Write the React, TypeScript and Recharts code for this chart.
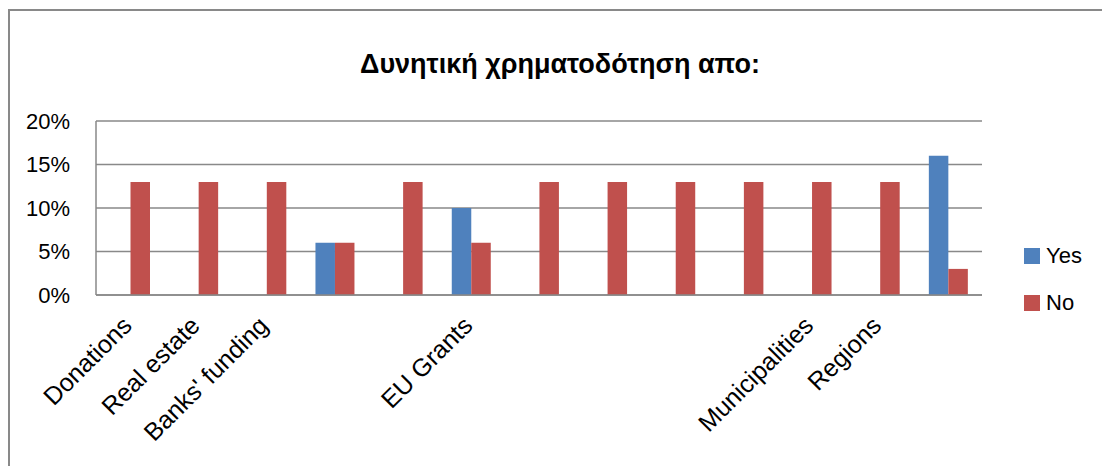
import { BarChart, Bar, XAxis, YAxis, CartesianGrid } from "recharts";

const categories = [
  "Donations",
  "Real estate",
  "Banks' funding",
  "",
  "",
  "EU Grants",
  "",
  "",
  "",
  "",
  "Municipalities",
  "Regions",
  "",
];
const yesValues = [0, 0, 0, 6, 0, 10, 0, 0, 0, 0, 0, 0, 16];
const noValues = [13, 13, 13, 6, 13, 6, 13, 13, 13, 13, 13, 13, 3];
const yTicks = [0, 5, 10, 15, 20];
const title = "Δυνητική χρηματοδότηση απο:";
const legendItems = ["Yes", "No"];

const YES = "#4F81BD";
const NO = "#C0504D";
const GRID = "#898989";
const FONT = "'Liberation Sans', Arial, sans-serif";

const data = categories.map((name, i) => ({ name, yes: yesValues[i], no: noValues[i] }));

const CatTick = (props: any) => {
  const { x, y, payload } = props;
  if (!payload.value) return null;
  return (
    <g transform={`translate(${x - 3},${y + 18})`}>
      <text textAnchor="end" transform="rotate(-45)" dy="0.35em" fontSize={25} fill="#000" fontFamily={FONT}>
        {payload.value}
      </text>
    </g>
  );
};

export default function App() {
  return (
    <div style={{ position: "relative", width: 1102, height: 458, overflow: "hidden", background: "#fff" }}>
      <div
        style={{
          position: "absolute",
          left: 0,
          top: 1,
          width: 1300,
          height: 1300,
          border: `2px solid ${GRID}`,
          boxSizing: "border-box",
        }}
      />
      <div
        style={{
          position: "absolute",
          left: 0,
          width: 1104,
          top: 42,
          lineHeight: "28px",
          textAlign: "center",
          fontFamily: FONT,
          fontWeight: "bold",
          fontSize: 27,
          color: "#000",
        }}
      >
        {title}
      </div>
      <div style={{ position: "absolute", left: 0, top: 0 }}>
        <BarChart
          width={1102}
          height={458}
          data={data}
          margin={{ top: 113, right: 128, bottom: 11, left: 0 }}
          barGap={0}
          barSize={19.5}
        >
          <CartesianGrid vertical={false} stroke={GRID} strokeWidth={1.5} />
          <XAxis
            dataKey="name"
            interval={0}
            tick={<CatTick />}
            tickLine={false}
            axisLine={{ stroke: GRID, strokeWidth: 1.5 }}
            height={160}
          />
          <YAxis
            domain={[0, 20]}
            ticks={yTicks}
            tickFormatter={(v: number) => `${v}%`}
            tick={{ fontSize: 22, fill: "#000", fontFamily: FONT }}
            tickLine={false}
            tickMargin={20}
            axisLine={{ stroke: GRID, strokeWidth: 1.5 }}
            width={88}
          />
          <Bar dataKey="yes" name="Yes" fill={YES} isAnimationActive={false} />
          <Bar dataKey="no" name="No" fill={NO} isAnimationActive={false} />
        </BarChart>
      </div>
      <div
        style={{ position: "absolute", left: 1016, top: 224, fontFamily: FONT, fontSize: 22, color: "#000" }}
      >
        {legendItems.map((label, i) => (
          <div key={label} style={{ display: "flex", alignItems: "center", height: 47 }}>
            <span
              style={{
                width: 16,
                height: 16,
                background: i === 0 ? YES : NO,
                display: "inline-block",
                marginRight: 6,
              }}
            />
            {label}
          </div>
        ))}
      </div>
    </div>
  );
}
